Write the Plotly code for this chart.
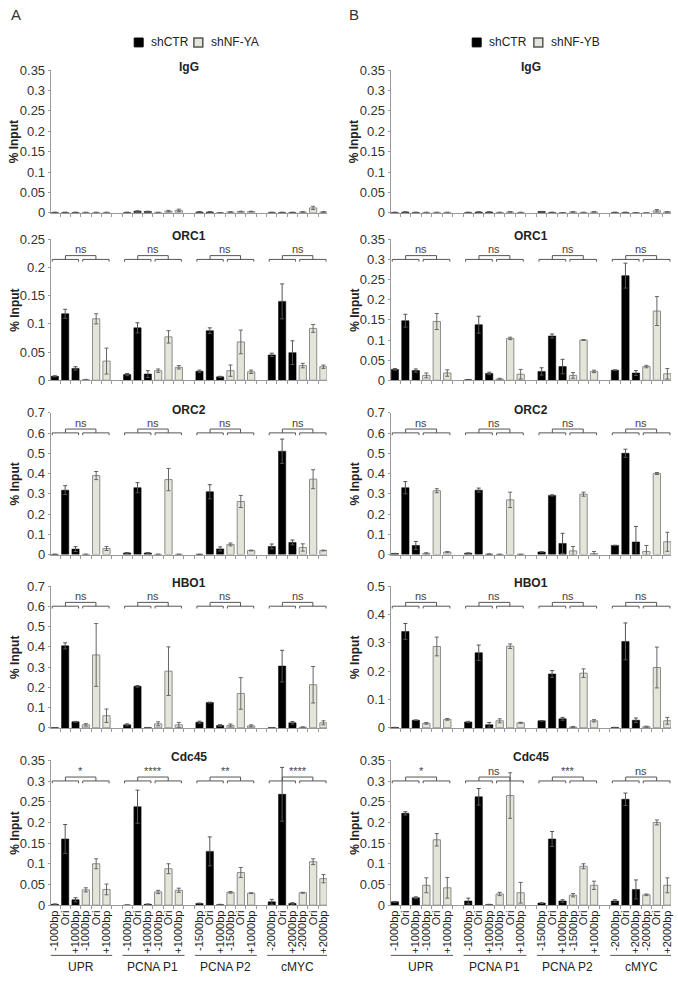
import plotly.graph_objects as go
from plotly.subplots import make_subplots

W, H = 678, 988
FONT = "Arial, Liberation Sans, sans-serif"

groups = ["UPR", "PCNA P1", "PCNA P2", "cMYC"]
pos_labels = [["-1000bp", "Ori", "+1000bp"], ["-1000bp", "Ori", "+1000bp"],
              ["-1500bp", "Ori", "+1000bp"], ["-2000bp", "Ori", "+2000bp"]]
targets = ["IgG", "ORC1", "ORC2", "HBO1", "Cdc45"]

# ---------------- Panel A (shCTR vs shNF-YA) ----------------
A_IgG_ctr = [0.001, 0.001, 0.001, 0.001, 0.004, 0.003, 0.002, 0.002, 0.000, 0.001, 0.001, 0.001]
A_IgG_ctr_err = [0.0005, 0.0005, 0.0005, 0.0005, 0.001, 0.001, 0.001, 0.001, 0.0003, 0.0005, 0.0005, 0.0005]
A_IgG_kd = [0.001, 0.001, 0.001, 0.001, 0.004, 0.006, 0.002, 0.003, 0.003, 0.002, 0.012, 0.002]
A_IgG_kd_err = [0.0005, 0.0005, 0.0005, 0.0005, 0.002, 0.003, 0.001, 0.001, 0.001, 0.001, 0.004, 0.001]

A_ORC1_ctr = [0.007, 0.118, 0.021, 0.010, 0.093, 0.011, 0.016, 0.088, 0.006, 0.045, 0.140, 0.049]
A_ORC1_ctr_err = [0.001, 0.008, 0.003, 0.002, 0.009, 0.006, 0.002, 0.005, 0.001, 0.003, 0.031, 0.021]
A_ORC1_kd = [0.001, 0.109, 0.034, 0.017, 0.077, 0.023, 0.017, 0.068, 0.015, 0.026, 0.092, 0.024]
A_ORC1_kd_err = [0.0005, 0.009, 0.023, 0.003, 0.011, 0.003, 0.010, 0.021, 0.003, 0.004, 0.007, 0.003]

A_ORC2_ctr = [0.001, 0.318, 0.027, 0.008, 0.330, 0.008, 0.001, 0.310, 0.028, 0.040, 0.510, 0.060]
A_ORC2_ctr_err = [0.001, 0.022, 0.012, 0.002, 0.025, 0.002, 0.001, 0.035, 0.010, 0.012, 0.060, 0.012]
A_ORC2_kd = [0.001, 0.390, 0.030, 0.001, 0.370, 0.001, 0.050, 0.262, 0.020, 0.035, 0.372, 0.020]
A_ORC2_kd_err = [0.001, 0.020, 0.010, 0.001, 0.055, 0.001, 0.007, 0.030, 0.002, 0.018, 0.047, 0.002]

A_HBO1_ctr = [0.001, 0.405, 0.030, 0.015, 0.205, 0.001, 0.028, 0.125, 0.012, 0.001, 0.305, 0.025]
A_HBO1_ctr_err = [0.001, 0.015, 0.002, 0.005, 0.004, 0.001, 0.005, 0.002, 0.004, 0.001, 0.078, 0.006]
A_HBO1_kd = [0.015, 0.360, 0.060, 0.020, 0.280, 0.015, 0.012, 0.170, 0.010, 0.003, 0.213, 0.025]
A_HBO1_kd_err = [0.006, 0.155, 0.033, 0.010, 0.120, 0.012, 0.007, 0.078, 0.005, 0.002, 0.090, 0.010]

A_Cdc45_ctr = [0.002, 0.160, 0.013, 0.000, 0.238, 0.002, 0.004, 0.130, 0.001, 0.008, 0.268, 0.004]
A_Cdc45_ctr_err = [0.001, 0.035, 0.005, 0.000, 0.040, 0.001, 0.001, 0.035, 0.001, 0.006, 0.065, 0.002]
A_Cdc45_kd = [0.037, 0.100, 0.038, 0.032, 0.088, 0.036, 0.031, 0.079, 0.029, 0.030, 0.105, 0.064]
A_Cdc45_kd_err = [0.005, 0.012, 0.013, 0.004, 0.012, 0.005, 0.002, 0.012, 0.001, 0.001, 0.007, 0.010]

A_ymax = [0.35, 0.25, 0.7, 0.7, 0.35]
A_dtick = [0.05, 0.05, 0.1, 0.1, 0.05]
A_sig = [None, ["ns", "ns", "ns", "ns"], ["ns", "ns", "ns", "ns"],
         ["ns", "ns", "ns", "ns"], ["*", "****", "**", "****"]]

# ---------------- Panel B (shCTR vs shNF-YB) ----------------
B_IgG_ctr = [0.001, 0.002, 0.001, 0.001, 0.002, 0.002, 0.003, 0.001, 0.000, 0.001, 0.001, 0.000]
B_IgG_ctr_err = [0.0005, 0.0005, 0.0005, 0.0005, 0.0005, 0.0005, 0.0005, 0.0005, 0.0002, 0.0005, 0.0005, 0.0002]
B_IgG_kd = [0.001, 0.001, 0.001, 0.001, 0.002, 0.001, 0.002, 0.001, 0.002, 0.000, 0.005, 0.002]
B_IgG_kd_err = [0.0005, 0.0005, 0.0005, 0.0005, 0.001, 0.0005, 0.001, 0.0005, 0.001, 0.0002, 0.003, 0.001]

B_ORC1_ctr = [0.027, 0.148, 0.024, 0.001, 0.138, 0.017, 0.022, 0.110, 0.034, 0.025, 0.260, 0.018]
B_ORC1_ctr_err = [0.002, 0.016, 0.004, 0.001, 0.021, 0.003, 0.009, 0.005, 0.018, 0.001, 0.031, 0.006]
B_ORC1_kd = [0.012, 0.146, 0.018, 0.003, 0.104, 0.015, 0.012, 0.100, 0.022, 0.034, 0.172, 0.016]
B_ORC1_kd_err = [0.006, 0.020, 0.008, 0.002, 0.003, 0.012, 0.007, 0.001, 0.003, 0.003, 0.036, 0.013]

B_ORC2_ctr = [0.005, 0.330, 0.045, 0.007, 0.318, 0.002, 0.013, 0.292, 0.055, 0.045, 0.500, 0.062]
B_ORC2_ctr_err = [0.001, 0.030, 0.020, 0.001, 0.010, 0.001, 0.001, 0.003, 0.050, 0.001, 0.020, 0.077]
B_ORC2_kd = [0.006, 0.315, 0.012, 0.001, 0.270, 0.001, 0.018, 0.298, 0.005, 0.015, 0.400, 0.063]
B_ORC2_kd_err = [0.003, 0.010, 0.003, 0.001, 0.038, 0.001, 0.022, 0.010, 0.010, 0.030, 0.005, 0.047]

B_HBO1_ctr = [0.001, 0.340, 0.027, 0.021, 0.265, 0.011, 0.025, 0.190, 0.032, 0.001, 0.305, 0.027]
B_HBO1_ctr_err = [0.001, 0.028, 0.001, 0.002, 0.027, 0.008, 0.001, 0.012, 0.005, 0.001, 0.065, 0.008]
B_HBO1_kd = [0.016, 0.287, 0.030, 0.025, 0.288, 0.018, 0.003, 0.193, 0.025, 0.004, 0.213, 0.025]
B_HBO1_kd_err = [0.003, 0.033, 0.003, 0.007, 0.008, 0.002, 0.002, 0.015, 0.004, 0.002, 0.072, 0.012]

B_Cdc45_ctr = [0.008, 0.222, 0.018, 0.010, 0.262, 0.001, 0.005, 0.160, 0.010, 0.010, 0.256, 0.038]
B_Cdc45_ctr_err = [0.001, 0.004, 0.002, 0.007, 0.020, 0.001, 0.001, 0.018, 0.003, 0.003, 0.015, 0.023]
B_Cdc45_kd = [0.048, 0.158, 0.042, 0.027, 0.265, 0.030, 0.024, 0.094, 0.048, 0.025, 0.200, 0.048]
B_Cdc45_kd_err = [0.018, 0.015, 0.025, 0.004, 0.055, 0.025, 0.004, 0.006, 0.010, 0.002, 0.006, 0.018]

B_ymax = [0.35, 0.35, 0.7, 0.5, 0.35]
B_dtick = [0.05, 0.05, 0.1, 0.1, 0.05]
B_sig = [None, ["ns", "ns", "ns", "ns"], ["ns", "ns", "ns", "ns"],
         ["ns", "ns", "ns", "ns"], ["*", "ns", "***", "ns"]]

A_data = [(A_IgG_ctr, A_IgG_ctr_err, A_IgG_kd, A_IgG_kd_err),
          (A_ORC1_ctr, A_ORC1_ctr_err, A_ORC1_kd, A_ORC1_kd_err),
          (A_ORC2_ctr, A_ORC2_ctr_err, A_ORC2_kd, A_ORC2_kd_err),
          (A_HBO1_ctr, A_HBO1_ctr_err, A_HBO1_kd, A_HBO1_kd_err),
          (A_Cdc45_ctr, A_Cdc45_ctr_err, A_Cdc45_kd, A_Cdc45_kd_err)]
B_data = [(B_IgG_ctr, B_IgG_ctr_err, B_IgG_kd, B_IgG_kd_err),
          (B_ORC1_ctr, B_ORC1_ctr_err, B_ORC1_kd, B_ORC1_kd_err),
          (B_ORC2_ctr, B_ORC2_ctr_err, B_ORC2_kd, B_ORC2_kd_err),
          (B_HBO1_ctr, B_HBO1_ctr_err, B_HBO1_kd, B_HBO1_kd_err),
          (B_Cdc45_ctr, B_Cdc45_ctr_err, B_Cdc45_kd, B_Cdc45_kd_err)]

# ---------------- layout geometry (pixels) ----------------
col_x = [(49, 327), (391, 673)]
row_y = [(64, 209), (236, 379), (412, 556), (588, 732), (765, 912)]
ylab_x = [13, 355]
GROUP_STEP = 7  # 6 bars + one empty slot between groups

BLACK = "#000000"
GRAY_FILL = "#e4e5d9"
GRAY_LINE = "#8c8c8c"
AX = "#9a9a9a"
TXT = "#333333"

ctr_x = [g * GROUP_STEP + j for g in range(4) for j in range(3)]
kd_x = [g * GROUP_STEP + 3 + j for g in range(4) for j in range(3)]
all_x = [g * GROUP_STEP + j for g in range(4) for j in range(6)]
all_lbl = [lbl for g in range(4) for lbl in pos_labels[g] * 2]
boundaries = [g * GROUP_STEP + j - 0.5 for g in range(4) for j in range(7)]

fig = make_subplots(rows=5, cols=2)

shapes = []
annotations = []

for c, (data, ymaxs, dticks, sigs) in enumerate([(A_data, A_ymax, A_dtick, A_sig),
                                                   (B_data, B_ymax, B_dtick, B_sig)]):
    for r in range(5):
        ctr, ctr_err, kd, kd_err = data[r]
        fig.add_trace(go.Bar(x=ctr_x, y=ctr, width=0.7, marker=dict(color=BLACK, line=dict(color=BLACK, width=0.5)),
                             error_y=dict(type="data", array=ctr_err, symmetric=True, color="#555555",
                                          thickness=1, width=2),
                             showlegend=False), row=r + 1, col=c + 1)
        fig.add_trace(go.Bar(x=kd_x, y=kd, width=0.7, marker=dict(color=GRAY_FILL, line=dict(color=GRAY_LINE, width=1)),
                             error_y=dict(type="data", array=kd_err, symmetric=True, color="#666666",
                                          thickness=1, width=2),
                             showlegend=False), row=r + 1, col=c + 1)
        n = r * 2 + c + 1
        xs = "" if n == 1 else str(n)
        x0, x1 = col_x[c]
        yt, yb = row_y[r]
        bottom = (r == 4)
        fig.update_layout(**{
            "xaxis" + xs: dict(domain=[x0 / W, x1 / W], range=[-0.4, 3 * GROUP_STEP + 5.35],
                               showline=True, linecolor=AX, linewidth=1, showgrid=False, zeroline=False,
                               tickmode="array", tickvals=all_x if bottom else [],
                               ticktext=all_lbl if bottom else [], tickangle=-90, ticks="",
                               tickfont=dict(family=FONT, size=11, color="#1a1a1a"),
                               minor=dict(tickmode="array", tickvals=boundaries, ticks="outside",
                                          ticklen=3, tickcolor=AX, tickwidth=1),
                               fixedrange=True),
            "yaxis" + xs: dict(domain=[1 - yb / H, 1 - yt / H], range=[0, ymaxs[r]], dtick=dticks[r],
                               showline=True, linecolor=AX, linewidth=1, showgrid=False, zeroline=False,
                               ticks="outside", ticklen=2, tickcolor=AX,
                               tickfont=dict(family=FONT, size=13, color=TXT), fixedrange=True),
        })
        xref = "x" + xs
        ydom = "y" + xs + " domain"
        # panel title
        annotations.append(dict(text="<b>%s</b>" % targets[r], xref=xref + " domain",
                                yref=ydom, x=0.5, y=1.0, yshift=3, showarrow=False,
                                font=dict(family=FONT, size=12, color="#222222"),
                                xanchor="center", yanchor="middle"))
        # y-axis title
        annotations.append(dict(text="<b>% Input</b>", xref="paper", yref=ydom,
                                x=ylab_x[c] / W, y=0.5, textangle=-90, showarrow=False,
                                font=dict(family=FONT, size=12, color="#222222"),
                                xanchor="center", yanchor="middle"))
        # significance brackets
        if sigs[r] is not None:
            low, tick, up, txt_y = 0.858, 0.842, 0.885, 0.93
            for g in range(4):
                b = g * GROUP_STEP
                la0, la1 = b - 0.25, b + 2.3
                lb0, lb1 = b + 2.7, b + 5.25
                for (p0, p1) in [(la0, la1), (lb0, lb1)]:
                    shapes.append(dict(type="path", xref=xref, yref=ydom,
                                       path="M %f,%f L %f,%f L %f,%f L %f,%f" % (p0, tick, p0, low, p1, low, p1, tick),
                                       line=dict(color="#555555", width=1)))
                m0, m1 = (la0 + la1) / 2, (lb0 + lb1) / 2
                shapes.append(dict(type="path", xref=xref, yref=ydom,
                                   path="M %f,%f L %f,%f L %f,%f L %f,%f" % (m0, low, m0, up, m1, up, m1, low),
                                   line=dict(color="#555555", width=1)))
                annotations.append(dict(text=sigs[r][g], xref=xref, yref=ydom, x=(m0 + m1) / 2, y=txt_y,
                                        showarrow=False, font=dict(family=FONT, size=11, color="#444444"),
                                        xanchor="center", yanchor="middle"))
        # group underlines and names on bottom panels
        if bottom:
            for g in range(4):
                b = g * GROUP_STEP
                shapes.append(dict(type="line", xref=xref, yref="paper", x0=b - 0.45, x1=b + 5.55,
                                   y0=1 - 963 / H, y1=1 - 963 / H, line=dict(color="#555555", width=1)))
                annotations.append(dict(text=groups[g], xref=xref, yref="paper", x=b + 2.5, y=1 - 975 / H,
                                        showarrow=False, font=dict(family=FONT, size=12, color="#222222"),
                                        xanchor="center", yanchor="middle"))

# legends (drawn with shapes + text)
legend_specs = [(133, 148, 193, 208, "shNF-YA"), (473, 488, 535, 550, "shNF-YB")]
for (sq1, t1, sq2, t2, kdname) in legend_specs:
    shapes.append(dict(type="rect", xref="paper", yref="paper", x0=sq1 / W, x1=(sq1 + 9) / W,
                       y0=1 - 40.5 / H, y1=1 - 31.5 / H, fillcolor=BLACK, line=dict(color=BLACK, width=1)))
    shapes.append(dict(type="rect", xref="paper", yref="paper", x0=sq2 / W, x1=(sq2 + 9) / W,
                       y0=1 - 40.5 / H, y1=1 - 31.5 / H, fillcolor=GRAY_FILL, line=dict(color="#555555", width=1.5)))
    annotations.append(dict(text="shCTR", xref="paper", yref="paper", x=t1 / W, y=1 - 36 / H, showarrow=False,
                            xanchor="left", yanchor="middle", font=dict(family=FONT, size=12, color="#222222")))
    annotations.append(dict(text=kdname, xref="paper", yref="paper", x=t2 / W, y=1 - 36 / H, showarrow=False,
                            xanchor="left", yanchor="middle", font=dict(family=FONT, size=12, color="#222222")))

# panel letters
annotations.append(dict(text="A", xref="paper", yref="paper", x=7 / W, y=1 - 8 / H, showarrow=False,
                        xanchor="left", yanchor="middle", font=dict(family=FONT, size=15, color="#333333")))
annotations.append(dict(text="B", xref="paper", yref="paper", x=347 / W, y=1 - 8 / H, showarrow=False,
                        xanchor="left", yanchor="middle", font=dict(family=FONT, size=15, color="#333333")))

fig.update_layout(width=W, height=H, margin=dict(l=0, r=0, t=0, b=0),
                  paper_bgcolor="white", plot_bgcolor="white", barmode="overlay",
                  shapes=shapes, annotations=annotations, font=dict(family=FONT))

fig.write_html("out.html")
